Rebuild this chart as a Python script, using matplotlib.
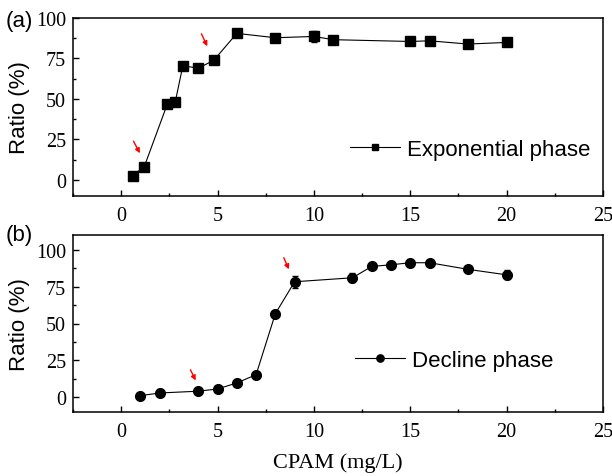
import matplotlib
matplotlib.use("Agg")
import matplotlib.pyplot as plt
from matplotlib.ticker import MultipleLocator

# Exponential phase data
exp_x = [0.6, 1.2, 2.4, 2.8, 3.2, 4.0, 4.8, 6.0, 8.0, 10.0, 11.0, 15.0, 16.0, 18.0, 20.0]
exp_y = [2.5, 8.2, 47.0, 47.8, 70.5, 69.0, 73.8, 90.5, 87.8, 88.6, 86.6, 85.5, 85.9, 83.9, 84.9]
exp_err = [0.8, 1.0, 1.5, 1.5, 2.5, 2.5, 1.5, 1.0, 1.5, 3.5, 1.0, 1.0, 1.0, 1.0, 1.0]

# Decline phase data
dec_x = [1, 2, 4, 5, 6, 7, 8, 9, 12, 13, 14, 15, 16, 18, 20]
dec_y = [1.1, 2.9, 4.1, 5.6, 9.7, 15.3, 56.7, 78.3, 81.0, 88.7, 89.8, 91.2, 91.2, 86.7, 83.0]
dec_err = [0.5, 0.5, 0.8, 0.8, 1.0, 1.0, 1.5, 4.0, 3.0, 1.5, 1.5, 1.5, 1.5, 1.5, 3.0]

# Red arrows (start -> end) in data coordinates
exp_arrows = [((0.57, 25.4), (1.04, 14.9)), ((4.1, 91.8), (4.53, 81.0))]
dec_arrows = [((3.53, 20.3), (3.93, 9.7)), ((8.38, 96.3), (8.76, 85.0))]

xticks = [0, 5, 10, 15, 20, 25]
yticks = [0, 25, 50, 75, 100]

SERIF = ["Liberation Serif", "DejaVu Serif"]
SANS = ["Liberation Sans", "DejaVu Sans"]

fig = plt.figure(figsize=(6.12, 4.77), dpi=100)
W, H = 612, 477

def px_axes(l, t, r, b):
    return fig.add_axes([l / W, 1 - b / H, (r - l) / W, (b - t) / H])

ax1 = px_axes(73, 19, 603, 197)
ax2 = px_axes(73, 236, 603, 413)


def style(ax, ylim):
    ax.set_xlim(-2.5, 25)
    ax.set_ylim(*ylim)
    ax.set_xticks(xticks)
    ax.set_yticks(yticks)
    ax.xaxis.set_minor_locator(MultipleLocator(2.5))
    ax.yaxis.set_minor_locator(MultipleLocator(12.5))
    ax.tick_params(which="both", direction="in", top=False, right=False)
    ax.tick_params(which="major", length=4.5, width=1.0)
    ax.tick_params(which="minor", length=2.5, width=1.0)
    ax.tick_params(axis="x", which="major", pad=7)
    ax.tick_params(axis="y", which="major", pad=5)
    for lab in ax.get_xticklabels() + ax.get_yticklabels():
        lab.set_fontfamily(SERIF)
        lab.set_fontsize(14.5)
    for s in ax.spines.values():
        s.set_linewidth(1.1)
    ax.set_ylabel("Ratio (%)", fontsize=16, fontfamily=SANS, labelpad=4)


def draw(ax, x, y, err, marker, ms, label):
    ax.errorbar(x, y, yerr=err, fmt="none", ecolor="black", elinewidth=0.8, capsize=2)
    ax.plot(x, y, color="black", marker=marker, markersize=ms, lw=0.8, label=label)


def legend(ax, anchor):
    ax.legend(loc="center left", bbox_to_anchor=anchor, frameon=False,
              prop={"family": SANS, "size": 16}, handlelength=2.25, handletextpad=0.3,
              borderpad=0, borderaxespad=0, markerscale=0.75)


draw(ax1, exp_x, exp_y, exp_err, "s", 6.5, "Exponential phase")
style(ax1, (-10, 100))
for (s, e) in exp_arrows:
    ax1.annotate("", xy=e, xytext=s,
                 arrowprops=dict(arrowstyle="-|>", color="red", lw=1.0, mutation_scale=7))
legend(ax1, (0.523, 0.26))

draw(ax2, dec_x, dec_y, dec_err, "o", 7, "Decline phase")
style(ax2, (-10, 110))
for (s, e) in dec_arrows:
    ax2.annotate("", xy=e, xytext=s,
                 arrowprops=dict(arrowstyle="-|>", color="red", lw=1.0, mutation_scale=7))
legend(ax2, (0.532, 0.29))
ax2.set_xlabel("CPAM (mg/L)", fontsize=16, fontfamily=SERIF, labelpad=8)

fig.text(33 / W, 1 - 21 / H, "(a)", ha="right", va="center", fontsize=16, fontfamily=SANS)
fig.text(33 / W, 1 - 235 / H, "(b)", ha="right", va="center", fontsize=16, fontfamily=SANS)

fig.savefig("out.png", dpi=100)
